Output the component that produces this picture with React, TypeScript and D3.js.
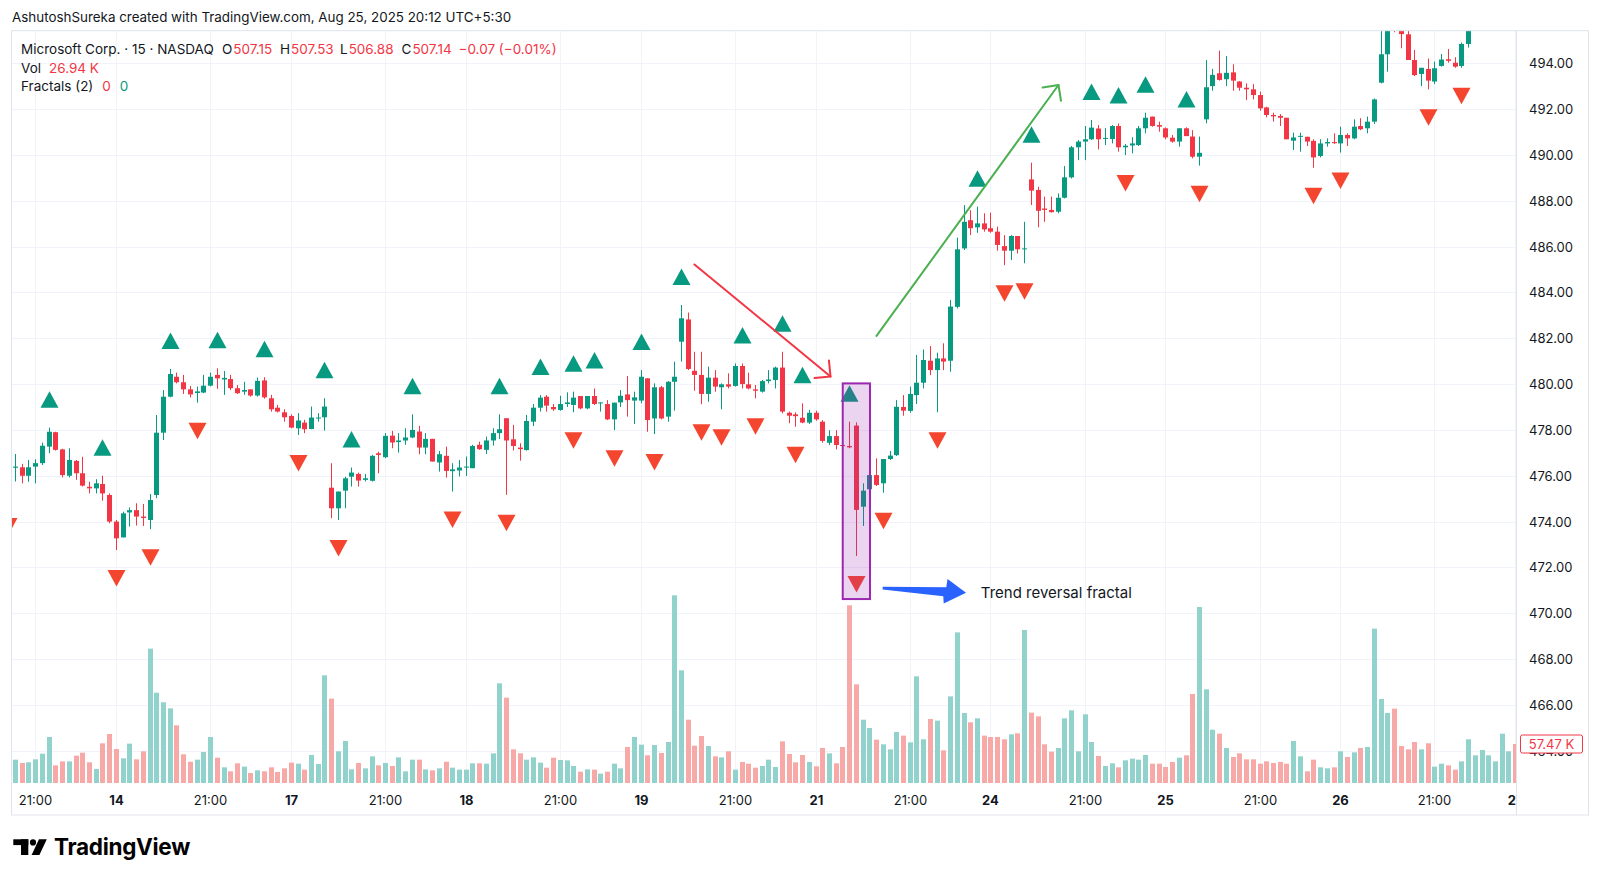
import React from "react";
import * as d3 from "d3";

// 15-minute bars, index -4 .. 220 (index 0 = first "21:00" tick)
const FIRST_BAR = -4;

const opens = [
  476.2, 476.35, 476.37, 476.0, 476.4, 476.55, 477.27, 477.9, 477.15, 476.0,
  476.65, 476.11, 475.52, 475.45, 475.64, 475.16, 474.0, 473.31, 474.4, 474.5,
  474.22, 474.07, 475.16, 477.88, 479.45, 480.32, 480.08, 479.77, 479.61, 479.63,
  479.93, 480.4, 480.2, 480.22, 479.82, 479.67, 479.77, 479.5, 480.16, 479.38,
  478.97, 478.77, 478.61, 478.07, 478.32, 478.04, 478.5, 478.55, 475.48, 474.58,
  475.35, 475.96, 476.08, 475.82, 475.78, 476.98, 476.81, 477.75, 477.47, 477.54,
  477.67, 477.93, 477.23, 477.61, 476.58, 476.87, 476.2, 476.23, 476.36, 476.33,
  477.35, 477.13, 477.54, 477.86, 478.51, 477.59, 477.23, 477.12, 478.36, 478.97,
  479.45, 479.0, 478.87, 479.13, 479.09, 479.48, 478.94, 479.48, 479.16, 479.13,
  478.46, 479.2, 479.55, 479.28, 479.28, 480.25, 478.5, 479.86, 478.58, 480.1,
  481.85, 482.82, 480.58, 480.4, 479.57, 480.28, 479.86, 479.99, 479.92, 480.79,
  479.99, 479.77, 479.67, 480.13, 480.18, 480.72, 478.75, 478.68, 478.53, 478.32,
  478.75, 478.36, 477.44, 477.73, 477.34, 477.3, 478.19, 474.65, 475.41, 476.03,
  475.67, 476.73, 476.9, 479.0, 478.83, 479.52, 480.06, 481.02, 480.61, 481.12,
  481.02, 483.37, 485.92, 487.15, 486.84, 487.01, 486.8, 486.65, 486.02, 485.82,
  486.46, 485.9, 488.93, 488.47, 487.66, 487.6, 487.52, 488.13, 489.02, 490.33,
  490.58, 490.68, 491.15, 490.7, 490.69, 491.26, 490.33, 490.41, 490.43, 491.16,
  491.67, 491.3, 491.16, 490.75, 490.58, 491.16, 490.8, 489.92, 491.55, 493.0,
  493.56, 493.3, 493.6, 493.2, 492.93, 492.86, 492.61, 492.07, 491.74, 491.7,
  491.62, 490.62, 490.79, 490.79, 490.61, 489.95, 490.5, 490.56, 490.5, 490.87,
  490.72, 491.26, 491.16, 491.45, 493.15, 494.39, 496.2, 495.6, 495.26, 494.14,
  493.53, 493.75, 493.2, 493.88, 494.17, 494.02, 493.88, 494.84, 495.6, 497.5,
  499.5, 501.5, 503.2, 505.4, 507.15,
];

const highs = [
  476.6, 476.95, 476.52, 476.69, 476.72, 477.45, 478.1, 477.92, 477.18, 477.2,
  476.69, 476.83, 475.74, 475.85, 476.0, 475.23, 474.07, 474.43, 474.62, 474.8,
  474.77, 475.2, 478.65, 479.74, 480.66, 480.5, 480.4, 479.92, 479.89, 480.4,
  480.5, 480.69, 480.57, 480.4, 479.96, 480.1, 479.77, 480.28, 480.3, 479.53,
  479.09, 478.9, 478.68, 478.73, 478.44, 479.02, 478.73, 479.38, 476.55, 475.31,
  475.96, 476.36, 476.14, 476.08, 476.91, 477.05, 477.86, 477.96, 477.86, 478.07,
  478.68, 478.18, 477.86, 477.61, 477.08, 477.27, 476.55, 476.69, 476.84, 477.35,
  477.49, 477.71, 478.07, 478.68, 478.51, 478.22, 477.42, 478.65, 479.13, 479.52,
  479.52, 479.13, 479.49, 479.64, 479.67, 479.48, 479.48, 479.81, 479.2, 479.3,
  479.19, 479.74, 480.35, 479.67, 480.61, 480.25, 480.03, 479.92, 480.13, 480.98,
  483.45, 483.12, 481.41, 481.41, 480.76, 480.61, 480.03, 480.47, 480.9, 480.9,
  480.5, 479.96, 480.18, 480.61, 480.76, 481.41, 478.8, 478.77, 479.16, 478.87,
  478.84, 478.43, 477.99, 477.99, 477.99, 478.36, 478.33, 475.67, 476.54, 476.76,
  476.73, 477.08, 479.3, 479.52, 479.89, 481.27, 481.51, 481.66, 481.37, 481.78,
  483.67, 486.39, 487.81, 487.59, 487.74, 487.45, 487.48, 486.87, 486.5, 486.5,
  486.46, 487.08, 489.66, 488.61, 488.18, 488.18, 488.32, 489.51, 490.39, 490.65,
  491.26, 491.52, 491.3, 491.16, 491.3, 491.37, 490.47, 490.77, 491.26, 491.84,
  491.67, 491.45, 491.2, 490.87, 491.16, 491.2, 491.08, 490.8, 494.14, 493.75,
  494.55, 494.31, 493.95, 493.22, 493.12, 493.09, 492.76, 492.1, 491.84, 491.78,
  491.62, 490.97, 490.97, 490.79, 490.68, 490.68, 490.72, 490.94, 491.23, 490.94,
  491.55, 491.6, 491.67, 492.46, 495.45, 496.2, 496.5, 495.9, 495.6, 494.58,
  493.8, 494.2, 494.07, 494.4, 494.62, 494.26, 494.9, 495.9, 497.6, 499.6,
  501.7, 503.4, 505.6, 507.4, 507.53,
];

const lows = [
  475.03, 475.75, 475.67, 475.74, 475.67, 476.47, 476.98, 477.1, 475.93, 475.93,
  475.82, 475.53, 475.23, 475.23, 474.91, 473.93, 472.76, 473.31, 473.78, 473.83,
  473.81, 473.67, 475.02, 477.56, 479.42, 480.03, 479.57, 479.42, 479.19, 479.6,
  479.9, 479.79, 479.53, 479.74, 479.57, 479.53, 479.45, 479.45, 479.36, 478.8,
  478.76, 478.36, 478.07, 477.78, 477.86, 478.03, 478.36, 477.97, 474.15, 474.07,
  474.58, 475.53, 475.53, 475.75, 475.75, 476.11, 476.77, 477.2, 477.01, 477.35,
  477.64, 476.94, 476.94, 476.62, 476.18, 475.92, 475.31, 475.97, 475.99, 476.33,
  477.13, 476.95, 477.32, 477.6, 475.17, 477.1, 476.66, 477.1, 478.17, 478.8,
  478.8, 478.83, 478.84, 479.0, 478.77, 478.9, 478.9, 479.09, 478.8, 478.43,
  477.99, 479.0, 478.58, 478.26, 479.16, 477.92, 477.82, 478.46, 478.36, 478.84,
  480.98, 480.61, 479.71, 479.12, 479.23, 479.67, 478.9, 479.81, 479.89, 479.81,
  479.77, 479.38, 479.63, 480.03, 479.81, 478.72, 478.29, 478.14, 478.29, 478.26,
  478.4, 477.44, 477.34, 477.15, 477.15, 477.2, 472.5, 473.81, 475.38, 475.55,
  475.26, 476.69, 476.86, 478.62, 478.75, 479.13, 479.81, 480.39, 478.77, 480.61,
  480.54, 483.3, 485.85, 486.5, 486.6, 486.65, 486.6, 485.82, 485.19, 485.41,
  485.7, 485.27, 487.81, 486.84, 487.08, 487.48, 487.45, 488.1, 488.97, 489.77,
  489.77, 490.65, 490.24, 490.43, 490.5, 490.14, 489.99, 490.07, 490.39, 490.94,
  491.23, 491.01, 490.68, 490.53, 490.36, 490.82, 489.85, 489.53, 491.38, 492.8,
  493.24, 493.0, 492.8, 492.8, 492.39, 492.42, 491.93, 491.64, 491.45, 491.26,
  490.68, 490.21, 490.14, 490.39, 489.44, 489.89, 490.36, 490.48, 490.1, 490.39,
  490.68, 491.08, 490.94, 491.35, 493.12, 493.63, 495.35, 494.65, 494.14, 493.44,
  493.0, 492.86, 493.09, 493.85, 494.02, 493.8, 493.8, 494.68, 495.42, 497.3,
  499.3, 501.2, 503.0, 505.2, 506.88,
];

const closes = [
  476.3, 476.4, 476.0, 476.37, 476.55, 477.31, 477.92, 477.13, 476.03, 476.69,
  476.11, 475.57, 475.45, 475.67, 475.23, 474.0, 473.27, 474.36, 474.5, 474.22,
  474.16, 474.94, 477.88, 479.45, 480.44, 480.08, 479.77, 479.55, 479.68, 479.93,
  480.32, 480.25, 480.27, 479.82, 479.6, 479.74, 479.5, 480.14, 479.42, 478.9,
  478.8, 478.55, 478.1, 478.41, 478.03, 478.54, 478.54, 479.02, 474.58, 475.31,
  475.89, 476.14, 475.79, 475.89, 476.87, 476.91, 477.74, 477.45, 477.54, 477.67,
  478.0, 477.23, 477.61, 476.62, 476.94, 476.21, 476.28, 476.36, 476.4, 477.3,
  477.16, 477.54, 477.86, 478.03, 477.54, 477.3, 477.16, 478.39, 478.97, 479.41,
  479.06, 478.9, 479.13, 479.2, 479.41, 478.94, 479.48, 479.13, 479.2, 478.46,
  479.19, 479.49, 479.3, 479.42, 480.32, 478.43, 479.86, 478.5, 480.1, 480.32,
  482.87, 480.66, 480.4, 479.57, 480.28, 479.89, 479.99, 479.89, 480.79, 480.0,
  479.81, 479.71, 480.13, 480.2, 480.72, 478.8, 478.62, 478.6, 478.32, 478.75,
  478.46, 477.52, 477.73, 477.34, 477.3, 477.24, 474.51, 475.35, 476.03, 475.6,
  476.73, 476.88, 479.01, 478.84, 479.57, 480.06, 481.05, 480.61, 481.12, 480.98,
  483.38, 485.88, 487.08, 486.8, 487.01, 486.75, 486.65, 486.07, 485.82, 486.46,
  485.88, 485.92, 488.44, 487.56, 487.6, 487.5, 488.13, 489.02, 490.33, 490.58,
  490.68, 491.19, 490.68, 490.74, 491.26, 490.33, 490.4, 490.5, 491.16, 491.62,
  491.26, 491.23, 490.76, 490.58, 491.16, 490.82, 489.92, 490.09, 492.95, 493.49,
  493.27, 493.58, 493.24, 492.93, 492.86, 492.61, 492.03, 491.74, 491.68, 491.62,
  490.68, 490.76, 490.83, 490.58, 489.89, 490.5, 490.56, 490.51, 490.87, 490.72,
  491.23, 491.12, 491.45, 492.42, 494.39, 495.9, 495.9, 495.27, 494.14, 493.48,
  493.8, 493.24, 493.78, 494.16, 494.1, 493.85, 494.84, 495.6, 497.5, 499.5,
  501.5, 503.2, 505.4, 507.21, 507.14,
];

// volume in thousands of shares
const volumes = [
  30.0, 34.4, 29.5, 30.5, 34.9, 43.2, 67.8, 26.0, 31.9, 31.9,
  40.3, 44.7, 30.5, 20.6, 58.5, 72.2, 50.1, 36.4, 58.0, 34.9,
  46.7, 198.0, 133.0, 119.0, 110.0, 85.0, 42.3, 31.4, 34.4, 45.7,
  67.8, 37.3, 23.1, 17.2, 29.0, 24.1, 14.7, 18.7, 17.2, 23.1,
  16.2, 21.6, 30.0, 28.5, 19.7, 41.3, 28.0, 158.7, 124.3, 46.7,
  61.9, 20.1, 29.5, 21.6, 39.3, 26.0, 29.5, 25.1, 37.8, 17.2,
  34.4, 34.4, 20.1, 18.7, 21.6, 31.4, 22.6, 19.7, 19.7, 29.0,
  29.0, 28.5, 43.7, 146.9, 125.8, 49.6, 43.7, 34.4, 37.8, 30.0,
  22.6, 37.3, 33.9, 33.4, 25.1, 16.7, 20.1, 19.7, 13.8, 16.7,
  28.5, 21.6, 53.1, 67.8, 56.5, 40.8, 56.0, 44.2, 60.4, 276.6,
  166.0, 93.3, 55.0, 69.3, 54.5, 39.3, 37.8, 46.7, 19.7, 31.0,
  28.5, 22.6, 25.1, 34.4, 23.6, 61.4, 42.7, 30.5, 41.3, 31.0,
  24.6, 51.6, 43.7, 29.0, 53.1, 261.9, 145.4, 93.3, 81.1, 63.9,
  57.0, 49.6, 75.2, 69.8, 59.9, 157.2, 64.4, 94.3, 91.9, 48.1,
  127.7, 222.0, 103.2, 89.4, 95.3, 69.8, 67.8, 67.8, 64.4, 71.7,
  73.2, 225.5, 103.7, 98.3, 57.0, 46.2, 51.6, 95.3, 107.1, 46.7,
  101.2, 60.4, 39.8, 25.1, 29.0, 23.1, 33.4, 35.9, 34.4, 41.3,
  28.5, 28.5, 23.6, 31.0, 37.3, 40.8, 131.2, 259.4, 138.1, 78.6,
  72.7, 51.6, 38.3, 43.7, 34.9, 34.9, 28.5, 31.9, 29.5, 31.0,
  28.5, 61.9, 39.3, 17.2, 34.4, 23.1, 21.6, 23.1, 46.7, 38.3,
  45.2, 51.6, 53.1, 227.5, 123.8, 103.2, 109.6, 54.5, 49.6, 60.4,
  49.6, 58.5, 24.1, 28.5, 26.0, 19.7, 31.9, 64.4, 40.8, 48.6,
  40.8, 31.9, 72.7, 46.7, 57.47,
];

// Bill Williams fractals (period 2), bar indices
const upFractals = [2, 10, 20, 27, 34, 43, 47, 56, 69, 75, 80, 83, 90, 96, 105, 111, 114, 121, 140, 148, 157, 161, 165, 171, 176];
const downFractals = [-4, 12, 17, 24, 39, 45, 62, 70, 80, 86, 92, 99, 102, 107, 113, 122, 126, 134, 144, 147, 162, 173, 190, 194, 207, 212];

// time axis
const tickBars = [0, 12, 26, 38, 52, 64, 78, 90, 104, 116, 130, 142, 156, 168, 182, 194, 208, 220];
const tickLabels = ["21:00", "14", "21:00", "17", "21:00", "18", "21:00", "19", "21:00", "21", "21:00", "24", "21:00", "25", "21:00", "26", "21:00", "27"];

// price axis
const priceTicks = d3.range(464, 495, 2);

// drawings, anchored as [bar index, price]
const redArrow = { start: [97.93, 485.22], end: [118.15, 480.33] };
const greenArrow = { start: [124.99, 482.1], end: [152.04, 493.05] };
const highlightBox = { from: [119.97, 480.03], to: [124.02, 470.62] };
const calloutArrow = { start: [125.9, 471.1], end: [138.3, 470.9] };
const calloutLabel = { at: [140.5, 470.89], text: "Trend reversal fractal" };

const headerText = "AshutoshSureka created with TradingView.com, Aug 25, 2025 20:12 UTC+5:30";
const symbolTitle = "Microsoft Corp. · 15 · NASDAQ";
const legendVolume = "26.94 K";

const FONT = "Inter, 'Noto Sans', 'DejaVu Sans', sans-serif";
const INK = "#131722";
const UP = "#089981";
const DOWN = "#F23645";
const VOL_UP = "#92d2cc";
const VOL_DOWN = "#f7a9a7";
const FRACTAL_UP = "#089981";
const FRACTAL_DOWN = "#f4452f";
const GRID = "#f0f3fa";
const BORDER = "#e0e3eb";

const plot = { left: 11, top: 30.7, right: 1516, bottom: 783, outerRight: 1588, axisBottom: 815 };

function arrowArms(x1: number, y1: number, x2: number, y2: number, len = 16, deg = 45) {
  const back = Math.atan2(y2 - y1, x2 - x1) + Math.PI;
  const r = (deg * Math.PI) / 180;
  return [
    [x2 + len * Math.cos(back + r), y2 + len * Math.sin(back + r)],
    [x2 + len * Math.cos(back - r), y2 + len * Math.sin(back - r)],
  ];
}

const fmt = (v: number) => v.toFixed(2);
const signed = (v: number) => (v < 0 ? "\u2212" + Math.abs(v).toFixed(2) : "+" + v.toFixed(2));

export default function App() {
  const bars = opens.map((o, i) => ({
    k: FIRST_BAR + i,
    o,
    h: highs[i],
    l: lows[i],
    c: closes[i],
    v: volumes[i],
  }));
  const last = bars[bars.length - 1];
  const prev = bars[bars.length - 2];
  const change = last.c - prev.c;
  const changePct = (change / prev.c) * 100;
  const lastColor = last.c >= last.o ? UP : DOWN;

  const x = d3.scaleLinear().domain([0, 220]).range([35.7, 35.7 + 220 * 6.727]);
  const y = d3.scaleLinear().domain([464, 494]).range([750.8, 63.2]);
  const yv = d3.scaleLinear().domain([0, 280]).range([783, 593]);

  const bodyW = 5;
  const left = (k: number) => Math.round(x(k) - bodyW / 2);
  const cx = (k: number) => left(k) + bodyW / 2;

  // blue callout arrow polygon
  const bx1 = x(calloutArrow.start[0]), by1 = y(calloutArrow.start[1]);
  const bx2 = x(calloutArrow.end[0]), by2 = y(calloutArrow.end[1]);
  const L = Math.hypot(bx2 - bx1, by2 - by1);
  const ang = Math.atan2(by2 - by1, bx2 - bx1);
  const local: [number, number][] = [
    [0, -1.4], [0.76 * L, -4.2], [0.77 * L, -12.5], [L, 0], [0.74 * L, 12], [0.73 * L, 4.8], [0, 1.4],
  ];
  const bluePts = local
    .map(([u, n]) => [bx1 + u * Math.cos(ang) - n * Math.sin(ang), by1 + u * Math.sin(ang) + n * Math.cos(ang)])
    .map((p) => p.join(","))
    .join(" ");

  const lineArrow = (a: { start: number[]; end: number[] }, color: string) => {
    const x1 = x(a.start[0]), y1 = y(a.start[1]);
    const x2 = x(a.end[0]), y2 = y(a.end[1]);
    const [p1, p2] = arrowArms(x1, y1, x2, y2);
    return (
      <g stroke={color} strokeWidth={2} fill="none" strokeLinecap="round" strokeLinejoin="round">
        <line x1={x1} y1={y1} x2={x2} y2={y2} />
        <path d={`M${p1[0]},${p1[1]} L${x2},${y2} L${p2[0]},${p2[1]}`} />
      </g>
    );
  };

  const boxX1 = x(highlightBox.from[0]), boxX2 = x(highlightBox.to[0]);
  const boxY1 = y(highlightBox.from[1]), boxY2 = y(highlightBox.to[1]);

  // OHLC legend items, each placed at its own column
  const ohlc = [
    { key: "O", v: last.o, at: 222 },
    { key: "H", v: last.h, at: 280 },
    { key: "L", v: last.l, at: 340 },
    { key: "C", v: last.c, at: 401.5 },
  ];

  return (
    <svg
      width={1600}
      height={882}
      style={{ position: "absolute", left: 0, top: 0, display: "block" }}
      fontFamily={FONT}
    >
      <defs>
        <clipPath id="plotClip">
          <rect x={plot.left} y={plot.top} width={plot.right - plot.left} height={plot.bottom - plot.top} />
        </clipPath>
        <clipPath id="timeClip">
          <rect x={plot.left} y={plot.bottom} width={plot.right - plot.left} height={plot.axisBottom - plot.bottom} />
        </clipPath>
      </defs>
      <rect width={1600} height={882} fill="#ffffff" />

      <text x={12} y={22} fontSize={13.4} fill={INK}>{headerText}</text>

      <g clipPath="url(#plotClip)">
        {priceTicks.map((p) => (
          <line key={"h" + p} x1={plot.left} x2={plot.right} y1={Math.round(y(p)) + 0.5} y2={Math.round(y(p)) + 0.5} stroke={GRID} />
        ))}
        {tickBars.map((k) => (
          <line key={"v" + k} x1={cx(k)} x2={cx(k)} y1={plot.top} y2={plot.bottom} stroke={GRID} />
        ))}

        {bars.map((b) => {
          const top = yv(b.v);
          return (
            <rect key={"vol" + b.k} x={left(b.k)} y={top} width={bodyW} height={plot.bottom - top} fill={b.c >= b.o ? VOL_UP : VOL_DOWN} />
          );
        })}

        {bars.map((b) => {
          const color = b.c >= b.o ? UP : DOWN;
          const yTop = y(Math.max(b.o, b.c));
          const h = Math.max(1, Math.abs(y(b.o) - y(b.c)));
          return (
            <g key={"c" + b.k}>
              <line x1={cx(b.k)} x2={cx(b.k)} y1={y(b.h)} y2={y(b.l)} stroke={color} strokeWidth={1} />
              <rect x={left(b.k)} y={yTop} width={bodyW} height={h} fill={color} />
            </g>
          );
        })}

        {upFractals.map((k) => {
          const b = bars[k - FIRST_BAR];
          const base = y(b.h) - 20;
          const c = cx(k);
          return <path key={"fu" + k} d={`M${c - 9},${base} L${c + 9},${base} L${c},${base - 16.5} Z`} fill={FRACTAL_UP} />;
        })}
        {downFractals.map((k) => {
          const b = bars[k - FIRST_BAR];
          const top = y(b.l) + 20;
          const c = cx(k);
          return <path key={"fd" + k} d={`M${c - 9},${top} L${c + 9},${top} L${c},${top + 16.5} Z`} fill={FRACTAL_DOWN} />;
        })}
      </g>

      {/* drawings */}
      {lineArrow(redArrow, "#F23645")}
      {lineArrow(greenArrow, "#4CAF50")}
      <rect
        x={boxX1}
        y={boxY1}
        width={boxX2 - boxX1}
        height={boxY2 - boxY1}
        fill="rgba(156,39,176,0.2)"
        stroke="#9C27B0"
        strokeWidth={2}
      />
      <polygon points={bluePts} fill="#2962FF" />
      <text x={x(calloutLabel.at[0])} y={y(calloutLabel.at[1])} fontSize={15} fill={INK} dominantBaseline="central">
        {calloutLabel.text}
      </text>

      {/* frame */}
      <rect x={plot.left + 0.5} y={plot.top} width={plot.outerRight - plot.left} height={plot.axisBottom - plot.top} fill="none" stroke={BORDER} />
      <line x1={plot.right + 0.5} x2={plot.right + 0.5} y1={plot.top} y2={plot.axisBottom} stroke={BORDER} />

      {/* price axis */}
      {priceTicks.map((p) => (
        <text key={"pl" + p} x={1529} y={y(p)} fontSize={13} fill={INK} dominantBaseline="central">
          {fmt(p)}
        </text>
      ))}
      <g>
        <rect x={1520.5} y={yv(last.v) - 9} width={62} height={18} rx={2} fill="#ffffff" stroke={DOWN} />
        <text x={1551.5} y={yv(last.v)} fontSize={13} fill={DOWN} textAnchor="middle" dominantBaseline="central">
          {`${last.v.toFixed(2)} K`}
        </text>
      </g>

      {/* time axis */}
      <g clipPath="url(#timeClip)">
        {tickBars.map((k, i) => (
          <text
            key={"t" + k}
            x={cx(k)}
            y={805}
            fontSize={13}
            fill={INK}
            textAnchor="middle"
            fontWeight={tickLabels[i].includes(":") ? 400 : 700}
          >
            {tickLabels[i]}
          </text>
        ))}
      </g>

      {/* legend */}
      <g fontSize={13.5} fill={INK}>
        <text x={21} y={53.5}>{symbolTitle}</text>
        {ohlc.map((d) => (
          <text key={d.key} x={d.at} y={53.5}>
            <tspan>{d.key}</tspan>
            <tspan dx={1} fill={lastColor}>{fmt(d.v)}</tspan>
          </text>
        ))}
        <text x={458.5} y={53.5} fill={lastColor}>{`${signed(change)} (${signed(changePct)}%)`}</text>
        <text x={21} y={73}>
          <tspan>Vol</tspan>
          <tspan dx={8} fill={DOWN}>{legendVolume}</tspan>
        </text>
        <text x={21} y={91}>
          <tspan>Fractals (2)</tspan>
          <tspan dx={9} fill={DOWN}>0</tspan>
          <tspan dx={9} fill={UP}>0</tspan>
        </text>
      </g>

      {/* TradingView mark */}
      <g fill="#000000">
        <rect x={13.3} y={839.3} width={15} height={5.8} />
        <rect x={21} y={839.3} width={7.3} height={15.7} />
        <circle cx={33} cy={842.4} r={3.1} />
        <path d="M31.6,855 L39.4,855 L46.8,839.3 L39,839.3 Z" />
        <text x={54} y={855} fontSize={22.5} fontWeight={700} letterSpacing={-0.3} fontFamily={FONT}>
          TradingView
        </text>
      </g>
    </svg>
  );
}
